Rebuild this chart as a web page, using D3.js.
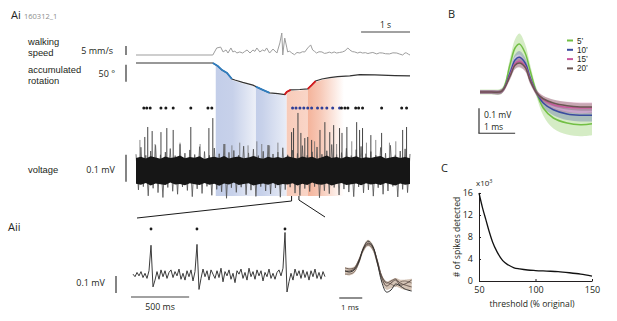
<!DOCTYPE html>
<html><head><meta charset="utf-8">
<script src="https://cdn.jsdelivr.net/npm/d3@7"></script>
<style>
html,body{margin:0;padding:0;background:#fff;}
svg{display:block;font-family:"Open Sans",sans-serif;}
</style></head><body>
<svg id="c" width="617" height="321"></svg>
<script>
// ===== Panel Ai data =====
// walking speed (time s, mm/s)
const speedT = [0,1.57,1.65,1.73,1.78,1.84,1.88,1.94,1.98,2.02,2.06,2.12,2.18,2.22,2.27,2.33,2.39,2.43,2.47,2.53,2.59,2.63,2.67,2.73,2.80,2.88,2.94,2.98,3.00,3.02,3.04,3.08,3.10,3.14,3.18,3.24,3.29,3.35,3.40,3.45,3.51,3.57,3.61,3.65,3.69,3.74,3.80,3.85,3.90,3.95,4.00,4.05,4.10,4.16,4.22,4.27,4.33,4.37,4.42,4.47,4.53,4.58,4.63,4.69,4.74,4.78,4.84,4.92,4.98,5.04,5.10,5.18,5.25,5.33,5.39,5.45,5.50,5.53,5.57,5.6];
const speedV = [0,0,3.9,4.4,1.7,2.8,1.1,3.9,1.7,2.2,1.1,1.7,1.1,1.9,2.8,1.1,2.8,2.0,3.9,1.7,2.8,2.2,3.9,1.1,3.3,1.1,6.7,12.2,0,5.0,9.4,4.4,1.7,2.2,1.1,0.2,1.4,1.1,1.8,1.7,3.9,5.6,2.8,2.0,1.1,1.8,1.7,0.9,1.1,1.6,1.1,1.7,1.1,1.4,1.7,2.3,3.9,2.8,1.9,1.7,1.1,1.6,1.1,1.3,0.8,1.1,1.4,0.6,1.2,1.1,0.7,0.6,1.2,1.1,0.5,0,1.2,1.1,0.4,0];
// accumulated rotation (time s, degrees)
const rotT = [0,1.57,1.67,1.76,1.86,1.96,2.02,2.18,2.39,2.47,2.59,2.73,2.90,3.04,3.08,3.16,3.35,3.51,3.59,3.67,3.80,3.96,4.12,4.37,4.57,4.88,5.29,5.6];
const rotDeg = [0,0,-9,-21,-29,-47,-50,-57,-65,-71,-79,-88,-90,-93,-85,-79,-78,-76,-65,-53,-47,-43,-40,-38,-34,-35,-37,-38];
// turning bouts (s)
const turnLeftT0 = [1.57,2.45], turnLeftT1 = [1.96,2.73];
const turnRightT0 = [3.04,3.51], turnRightT1 = [3.16,3.67];
// shaded response periods (s)
const shadeT0 = [1.63,2.45,3.08,3.51];
const shadeT1 = [2.45,3.08,3.51,4.25];
// detected spikes (s)
const dotT = [0.16,0.22,0.29,0.51,0.61,0.76,1.12,1.47,1.55,3.20,3.27,3.35,3.43,3.51,3.59,3.71,3.80,3.90,4.02,4.16,4.20,4.27,4.33,4.49,4.55,4.63,5.02,5.43,5.53];
const rightWindow = [3.1,4.18];
// voltage: large spikes (s, µV)
const spikeT = [0.18,0.24,0.33,0.51,0.63,0.76,1.12,1.49,1.57,3.18,3.22,3.31,3.37,3.45,3.51,3.59,3.76,3.86,3.96,4.04,4.16,4.21,4.31,4.51,4.57,4.63,4.80,5.02,5.45,5.53];
const spikeH = [126,163,148,144,159,152,163,159,196,144,159,215,141,122,126,115,152,181,144,170,159,141,163,181,152,159,133,141,152,163];
const minorT = [0.08,0.39,0.90,1.31,1.82,1.96,2.12,2.29,2.47,2.57,2.73,2.90,3.65,4.10,4.41,4.71,4.90,5.18,5.31];
const minorH = [115,100,105,100,100,95,105,95,110,100,95,105,110,100,110,105,115,105,110];
// voltage noise envelopes, sampled every 0.1 s (µV)
const vStep = 0.1;
const coreUp = [48,53,46,55,50,45,54,48,51,57,47,52,49,55,44,50,53,48,56,46,51,54,47,50,56,49,45,53,48,52,47,55,50,46,54,49,53,45,51,57,48,52,46,54,50,55,47,51,48,53,56,46,50,54,48,52,47];
const coreLo = [-47,-51,-44,-54,-46,-49,-52,-43,-50,-48,-53,-45,-49,-52,-44,-51,-47,-55,-46,-50,-43,-52,-48,-45,-54,-49,-46,-51,-44,-53,-48,-50,-45,-54,-47,-52,-43,-49,-51,-46,-54,-48,-44,-52,-49,-46,-53,-45,-50,-47,-52,-44,-49,-54,-46,-51,-48];
const fUp = [62,88,58,74,95,60,70,83,57,99,66,78,61,90,72,58,85,64,100,69,76,59,92,67,81,57,73,96,63,70,86,60,77,65,94,58,71,89,62,75,98,61,68,84,57,79,91,64,72,59,87,66,95,60,74,82,63];
const fLo = [-70,-58,-92,-64,-80,-98,-61,-75,-86,-59,-72,-95,-66,-83,-57,-90,-68,-77,-101,-62,-79,-60,-88,-71,-94,-58,-74,-85,-63,-97,-69,-60,-82,-91,-65,-76,-58,-99,-73,-84,-61,-89,-67,-78,-95,-59,-81,-70,-93,-62,-86,-74,-57,-96,-68,-80,-64];
const zoomWin = [3.18,3.33];

// ===== Panel Aii data =====
const aiiStep = 0.0172; // s per sample
const aiiV = [5,-10,15,-5,20,-15,10,-20,25,175,-70,-30,20,-25,30,-10,25,-20,15,30,-15,20,-5,35,-25,10,-30,25,-10,30,-35,20,180,-85,-20,35,-10,25,-30,30,5,-20,25,-15,40,-40,20,-5,30,-25,10,-45,25,5,35,-20,15,-30,40,-10,20,-25,30,-5,25,-35,15,-10,35,-20,10,-25,15,30,-5,40,250,-100,-40,10,-30,35,-5,25,-20,30,-15,20,-30,25,-10,35,-20,15,-25,20,-10];
const aiiDotT = [0.155,0.550,1.307];
// spike waveforms (ms, µV)
const wT = [0,0.2,0.4,0.6,0.8,1.0,1.2,1.4,1.6,1.8,2.0,2.2,2.4,2.6,2.9];
const wDark = [6,0,12,59,141,182,153,59,-59,-118,-106,-71,-82,-100,-112];
const w2 = [24,18,24,71,135,165,147,71,-24,-65,-53,-41,-65,-76,-88];
const w3 = [-12,-12,0,53,129,159,135,53,-29,-59,-71,-82,-59,-53,-65];
const w4 = [6,6,18,65,135,171,147,65,-35,-82,-65,-47,-76,-71,-47];
const wBandHi = [30,25,32,80,155,190,165,82,-15,-55,-45,-35,-45,-45,-40];
const wBandLo = [-18,-20,-8,45,118,152,128,42,-55,-105,-95,-85,-95,-105,-110];

// ===== Panel B data =====
const bT = [0,0.3,0.6,0.83,0.97,1.09,1.25,1.39,1.57,1.75,2.03,2.41,2.78,3.1];
const bNames = ["5’","10’","15’","20’"];
const b5 = [0,0,4,109,176,192,156,84,-4,-64,-104,-124,-131,-127];
const b5sd = [10,10,12,25,35,42,35,25,18,30,42,46,46,46];
const b10 = [0,0,3,76,128,139,116,56,-4,-44,-71,-88,-93,-93];
const b10sd = [8,8,9,18,22,25,22,18,12,18,22,24,25,25];
const b15 = [0,0,3,67,113,123,103,49,-4,-31,-51,-61,-64,-64];
const b15sd = [8,8,9,16,20,22,20,16,12,16,20,22,22,22];
const b20 = [0,0,3,63,107,116,99,45,-4,-27,-44,-55,-60,-60];
const b20sd = [7,7,8,14,16,18,16,14,10,12,14,15,15,15];

// ===== Panel C data =====
const thrPct = [50,53,56,59,62,66,71,76,81,86,93,100,110,120,130,140,150];
const nSpikesK = [16.0,13.4,11.2,9.0,7.1,5.3,3.7,2.9,2.4,2.2,2.0,1.9,1.8,1.7,1.5,1.25,0.9];
const cYTicks = [0,4,8,12,16];
const cXTicks = [50,100,150];

// ================= drawing =================
const svg = d3.select("#c");
const defs = svg.append("defs");
const ink = "#231f20";
const LIB = '"Liberation Sans",sans-serif';
svg.append("rect").attr("width",617).attr("height",321).attr("fill","#fff");
function txt(x,y,s,size,opt){ opt=opt||{}; const t = svg.append("text").attr("x",x).attr("y",y).text(s)
  .attr("font-size",size).attr("fill",opt.fill||ink).attr("text-anchor",opt.anchor||"start");
  if(opt.family) t.attr("font-family",opt.family); return t; }
function seg(x1,y1,x2,y2,w,c){ return svg.append("line").attr("x1",x1).attr("y1",y1).attr("x2",x2).attr("y2",y2)
  .attr("stroke",c||ink).attr("stroke-width",w||1); }

// ---- Ai scales
const tx = d3.scaleLinear().domain([0,5.6]).range([136,410]);
const sy = d3.scaleLinear().domain([0,5]).range([55,46]);
const ry = d3.scaleLinear().domain([0,-50]).range([63,80]);
const vy = d3.scaleLinear().domain([0,100]).range([171,144]);

const rotAt = t => { const i = d3.bisectRight(rotT,t); if(i<=0) return rotDeg[0]; if(i>=rotT.length) return rotDeg[rotDeg.length-1];
  const t0=rotT[i-1],t1=rotT[i]; return rotDeg[i-1]+(rotDeg[i]-rotDeg[i-1])*(t-t0)/(t1-t0); };
const rotPts = (a,b) => { const p=[[a,rotAt(a)]]; rotT.forEach((t,i)=>{ if(t>a&&t<b) p.push([t,rotDeg[i]]); }); p.push([b,rotAt(b)]); return p; };

// shading
const gradStops = [
  [[0,"#c3cee9"],[0.42,"#c7d1ea"],[1,"#edf0f8"]],
  [[0,"#c3cee9"],[0.2,"#c7d1ea"],[1,"#e9edf7"]],
  [[0,"#f8cbb9"],[1,"#f9d5c7"]],
  [[0,"#f4b39a"],[0.35,"#f7c9b7"],[1,"#ffffff"]]
];
const shadeBottom = 196;
const shadeArea = d3.area().x(d=>tx(d[0])).y0(shadeBottom).y1(d=>ry(d[1])+1);
shadeT0.forEach((t0,i)=>{
  const g = defs.append("linearGradient").attr("id","sg"+i).attr("gradientUnits","userSpaceOnUse")
    .attr("x1",tx(t0)).attr("x2",tx(shadeT1[i])).attr("y1",0).attr("y2",0);
  gradStops[i].forEach(s=>g.append("stop").attr("offset",s[0]).attr("stop-color",s[1]));
  svg.append("path").attr("d",shadeArea(rotPts(t0,shadeT1[i]))).attr("fill","url(#sg"+i+")");
});

// speed
const speedLine = d3.line().x((d,i)=>tx(speedT[i])).y(d=>sy(d));
svg.append("path").attr("d",speedLine(speedV)).attr("fill","none").attr("stroke","#9d9d9d").attr("stroke-width",1).attr("stroke-linejoin","round");
// rotation
const rotLine = d3.line().x(d=>tx(d[0])).y(d=>ry(d[1]));
svg.append("path").attr("d",rotLine(rotT.map((t,i)=>[t,rotDeg[i]]))).attr("fill","none").attr("stroke","#333").attr("stroke-width",1.2);
turnLeftT0.forEach((a,i)=>svg.append("path").attr("d",rotLine(rotPts(a,turnLeftT1[i]))).attr("fill","none").attr("stroke","#2f7ec1").attr("stroke-width",1.8));
turnRightT0.forEach((a,i)=>svg.append("path").attr("d",rotLine(rotPts(a,turnRightT1[i]))).attr("fill","none").attr("stroke","#d7191c").attr("stroke-width",1.8));

// dots
dotT.forEach(t=>svg.append("circle").attr("cx",tx(t)).attr("cy",108).attr("r",1.5)
  .attr("fill",(t>=rightWindow[0]&&t<=rightWindow[1])?"#2e3f98":"#1a1a1a"));

// voltage fringe (zigzag trace)
const fr=[]; fUp.forEach((u,i)=>{ fr.push([i*vStep,u]); if(i<fUp.length-1) fr.push([i*vStep+vStep/2,fLo[i]]); });
svg.append("path").attr("d",d3.line().x(d=>tx(d[0])).y(d=>vy(d[1]))(fr)).attr("fill","none").attr("stroke","#505050").attr("stroke-width",0.8);
// minor & major spikes
minorT.forEach((t,i)=>seg(tx(t),vy(0),tx(t),vy(minorH[i]),0.8,"#707070"));
spikeT.forEach((t,i)=>seg(tx(t),vy(-30),tx(t),vy(spikeH[i]),1,"#444"));
// core band
const coreArea = d3.area().x((d,i)=>tx(i*vStep)).y0((d,i)=>vy(coreLo[i])).y1(d=>vy(d));
svg.append("path").attr("d",coreArea(coreUp)).attr("fill","#161616");

// Ai labels & scale bars
txt(11,18.5,"Ai",11);
txt(24,18.5,"160312_1",7.5,{fill:"#8c8c8c"});
seg(tx(4.6),32,tx(5.6),32,1.2,"#444");
txt((tx(4.6)+tx(5.6))/2,28,"1 s",8.5,{anchor:"middle"});
txt(28,44.5,"walking",9.4,{family:LIB}); txt(28,55.6,"speed",9.4,{family:LIB});
txt(113,54,"5 mm/s",9,{anchor:"end"});
seg(126,sy(0),126,sy(5),1.2,"#333");
txt(28,73,"accumulated",9.4,{family:LIB}); txt(28,84.1,"rotation",9.4,{family:LIB});
txt(115,76.5,"50 °",9,{anchor:"end"});
seg(126,ry(-5),126,ry(-55),1.2,"#333");
txt(28,173,"voltage",9.4,{family:LIB});
txt(115,173,"0.1 mV",9,{anchor:"end"});
seg(126,vy(60),126,vy(-40),1.2,"#333");

// ---- Aii
const ax = d3.scaleLinear().domain([0,(aiiV.length-1)*aiiStep]).range([133,325]);
const ay = d3.scaleLinear().domain([0,100]).range([275,258]);
svg.append("path").attr("d",d3.line().x((d,i)=>ax(i*aiiStep)).y(d=>ay(d))(aiiV))
  .attr("fill","none").attr("stroke","#3b3b3b").attr("stroke-width",1).attr("stroke-linejoin","round");
aiiDotT.forEach(t=>svg.append("circle").attr("cx",ax(t)).attr("cy",229).attr("r",1.4).attr("fill","#1a1a1a"));
// zoom lines
const zl = d3.line();
svg.append("path").attr("d",zl([[ax(0)+4,218],[tx(zoomWin[0]),201],[tx(zoomWin[0]),196]])).attr("fill","none").attr("stroke","#1a1a1a").attr("stroke-width",1);
svg.append("path").attr("d",zl([[tx(zoomWin[1]),196],[tx(zoomWin[1]),200],[ax((aiiV.length-1)*aiiStep),217]])).attr("fill","none").attr("stroke","#1a1a1a").attr("stroke-width",1);
txt(8,231,"Aii",11);
txt(105,286,"0.1 mV",9,{anchor:"end"});
seg(116,ay(-6),116,ay(-106),1.2,"#333");
seg(ax(0)-2,297,ax(0.5)-2,297,1.2,"#444");
txt(160,310,"500 ms",8.8,{anchor:"middle"});

// waveform overlay
const wx = d3.scaleLinear().domain([0,2.9]).range([345,411.7]);
const wy = d3.scaleLinear().domain([0,100]).range([272,255]);
svg.append("path").attr("d",d3.area().curve(d3.curveCatmullRom).x((d,i)=>wx(wT[i])).y0((d,i)=>wy(wBandLo[i])).y1(d=>wy(d))(wBandHi))
  .attr("fill","#cdb9a8").attr("opacity",0.85);
const wl = d3.line().curve(d3.curveCatmullRom).x((d,i)=>wx(wT[i])).y(d=>wy(d));
[[w3,"#8a7a70"],[w2,"#6c5c54"],[w4,"#5a4b45"],[wDark,"#2e2e2e"]].forEach(s=>
  svg.append("path").attr("d",wl(s[0])).attr("fill","none").attr("stroke",s[1]).attr("stroke-width",1));
seg(wx(-0.25),298,wx(0.75),298,1.2,"#444");
txt(350,310,"1 ms",8,{anchor:"middle"});

// ---- B
const bx = d3.scaleLinear().domain([0,3.1]).range([480,592]);
const by = d3.scaleLinear().domain([0,100]).range([92,67]);
const bSeries = [[b5,b5sd],[b10,b10sd],[b15,b15sd],[b20,b20sd]];
const bLineCol = ["#72bf44","#3a4b9f","#c9579d","#6b5552"];
const bBandCol = ["rgba(125,195,75,0.32)","rgba(70,80,165,0.30)","rgba(205,90,155,0.32)","rgba(110,85,80,0.30)"];
bSeries.forEach((s,k)=>{
  const ar = d3.area().curve(d3.curveCatmullRom).x((d,i)=>bx(bT[i])).y0((d,i)=>by(d-s[1][i])).y1((d,i)=>by(d+s[1][i]));
  svg.append("path").attr("d",ar(s[0])).attr("fill",bBandCol[k]);
});
bSeries.forEach((s,k)=>{
  const ln = d3.line().curve(d3.curveCatmullRom).x((d,i)=>bx(bT[i])).y(d=>by(d));
  svg.append("path").attr("d",ln(s[0])).attr("fill","none").attr("stroke",bLineCol[k]).attr("stroke-width",1.5);
});
bNames.forEach((n,k)=>{
  const y = 40.5 + k*9.3;
  seg(567,y,573,y,2,bLineCol[k]);
  txt(577,y+3,n,8.2,{family:LIB});
});
txt(448,18,"B",11);
seg(bx(0)-1,by(-65),bx(0)-1,by(-165),1.2,"#333");
seg(bx(0)-1.6,by(-165),bx(1)-1,by(-165),1.2,"#333");
txt(484,118,"0.1 mV",8.6);
txt(484,130,"1 ms",8.6);

// ---- C
const cx = d3.scaleLinear().domain([50,150]).range([479,592]);
const cy = d3.scaleLinear().domain([0,16]).range([281,193]);
const gY = svg.append("g").attr("transform","translate(479,0)")
  .call(d3.axisLeft(cy).tickValues(cYTicks).tickSizeInner(-2).tickSizeOuter(0).tickPadding(6));
const gX = svg.append("g").attr("transform","translate(0,281)")
  .call(d3.axisBottom(cx).tickValues(cXTicks).tickSizeInner(-2).tickSizeOuter(0).tickPadding(6));
[gY,gX].forEach(g=>{ g.selectAll("path,line").attr("stroke",ink).attr("stroke-width",1);
  g.selectAll("text").attr("font-size",9).attr("fill",ink).attr("font-family",'"Open Sans",sans-serif'); });
svg.append("path").attr("d",d3.line().curve(d3.curveMonotoneX).x((d,i)=>cx(thrPct[i])).y(d=>cy(d))(nSpikesK))
  .attr("fill","none").attr("stroke","#111").attr("stroke-width",1.3);
txt(441,172,"C",11);
const xl = txt(476,186,"x10",8);
xl.append("tspan").attr("dy",-3).attr("font-size",5.5).text("3");
svg.append("text").attr("transform","translate(460,237) rotate(-90)").attr("text-anchor","middle")
  .attr("font-size",8.6).attr("fill",ink).text("# of spikes detected");
txt(532,307,"threshold (% original)",8.6,{anchor:"middle"});
</script>
</body></html>
